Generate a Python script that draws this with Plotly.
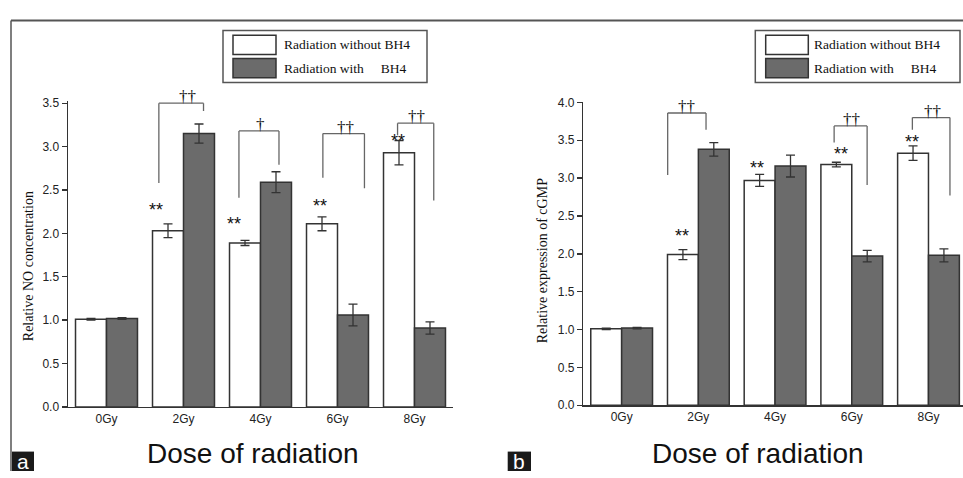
import plotly.graph_objects as go

# ---------------- data ----------------
categories = ["0Gy", "2Gy", "4Gy", "6Gy", "8Gy"]
series_names = ["Radiation without BH4", "Radiation with    BH4"]

no_without = [1.01, 2.03, 1.89, 2.11, 2.93]
no_without_err = [0.01, 0.08, 0.03, 0.08, 0.14]
no_with = [1.02, 3.15, 2.59, 1.06, 0.91]
no_with_err = [0.01, 0.11, 0.12, 0.125, 0.07]

cgmp_without = [1.01, 1.99, 2.97, 3.18, 3.33]
cgmp_without_err = [0.01, 0.065, 0.08, 0.03, 0.095]
cgmp_with = [1.02, 3.38, 3.16, 1.97, 1.98]
cgmp_with_err = [0.01, 0.09, 0.145, 0.077, 0.086]

ticks_a = [0.0, 0.5, 1.0, 1.5, 2.0, 2.5, 3.0, 3.5]
ticks_b = [0.0, 0.5, 1.0, 1.5, 2.0, 2.5, 3.0, 3.5, 4.0]

# significance marks: (category index, x offset, y)
stars_a = [(1, -0.36, 2.31), (2, -0.35, 2.15), (3, -0.23, 2.36), (4, -0.22, 3.11)]
stars_b = [(1, -0.21, 2.29), (2, -0.24, 3.19), (3, -0.14, 3.37), (4, -0.21, 3.53)]
# brackets: (cat, left off, right off, top, left bottom, right bottom, label, label x off)
brackets_a = [
    (1, -0.32, 0.26, 3.50, 2.58, 3.41, "††", 0.05),
    (2, -0.28, 0.24, 3.18, 2.41, 2.79, "†", 0.0),
    (3, -0.19, 0.35, 3.15, 2.64, 2.52, "††", 0.11),
    (4, -0.22, 0.25, 3.27, 3.13, 2.38, "††", 0.02),
]
brackets_b = [
    (1, -0.40, 0.10, 3.86, 3.04, 3.64, "††", -0.15),
    (3, -0.23, 0.20, 3.69, 3.47, 2.91, "††", 0.0),
    (4, -0.21, 0.28, 3.80, 3.64, 2.77, "††", 0.05),
]

# ---------------- style ----------------
W, H = 963, 478
WHITE = "#ffffff"
DARK = "#6b6b6b"
EDGE = "#333333"
SANS = "Liberation Sans, Arial, sans-serif"
SERIF = "Liberation Serif, Times New Roman, serif"

def px(x):
    return min(1.0, max(0.0, x / W))

def py(y):
    return min(1.0, max(0.0, 1 - y / H))

idx = list(range(len(categories)))

fig = go.Figure()

def add_bars(xa, ya, v1, e1, v2, e2):
    for vals, errs, col, name in [(v1, e1, WHITE, series_names[0]), (v2, e2, DARK, series_names[1])]:
        fig.add_trace(go.Bar(
            x=idx, y=vals, name=name, xaxis=xa, yaxis=ya,
            marker=dict(color=col, line=dict(color=EDGE, width=1.5)),
            error_y=dict(type="data", array=errs, visible=True, color=EDGE, thickness=1.3, width=4.5),
            showlegend=False, hoverinfo="skip",
        ))

add_bars("x", "y", no_without, no_without_err, no_with, no_with_err)
add_bars("x2", "y2", cgmp_without, cgmp_without_err, cgmp_with, cgmp_with_err)

axis_common = dict(showline=True, linecolor=EDGE, linewidth=1.5, showgrid=False, zeroline=False,
                   tickfont=dict(family=SANS, size=12, color="#222"))

fig.update_layout(
    width=W, height=H, margin=dict(l=0, r=0, t=0, b=0),
    paper_bgcolor="white", plot_bgcolor="white",
    barmode="group", bargap=0.195, bargroupgap=0,
    xaxis=dict(domain=[px(68), px(453)], range=[-0.5, 4.5], tickvals=idx, ticktext=categories,
               ticks="", anchor="y", **axis_common),
    yaxis=dict(domain=[py(412), py(96.4)], range=[0, 3.53], tickvals=ticks_a,
               ticktext=[f"{t:.1f}" for t in ticks_a], ticks="outside", ticklen=5, tickcolor=EDGE,
               tickwidth=1.3, anchor="x", **axis_common),
    xaxis2=dict(domain=[px(583.3), 1.0], range=[-0.5, 4.45], tickvals=idx, ticktext=categories,
                ticks="", anchor="y2", **axis_common),
    yaxis2=dict(domain=[py(410.3), py(98.3)], range=[0, 4.0], tickvals=ticks_b,
                ticktext=[f"{t:.1f}" for t in ticks_b], ticks="outside", ticklen=5, tickcolor=EDGE,
                tickwidth=1.3, anchor="x2", **axis_common),
)

shapes = []
annotations = []

# brackets and marks
for xa, ya, stars, brackets in [("x", "y", stars_a, brackets_a), ("x2", "y2", stars_b, brackets_b)]:
    for c, off, yv in stars:
        annotations.append(dict(x=c + off, y=yv, xref=xa, yref=ya, text="**", showarrow=False,
                                xanchor="center", yanchor="middle", yshift=-4,
                                font=dict(family=SANS, size=18, color="#111")))
    for c, lo, ro, top, lb, rb, lab, lx in brackets:
        line = dict(color="#666666", width=1.3)
        shapes.append(dict(type="line", xref=xa, yref=ya, x0=c + lo, x1=c + lo, y0=lb, y1=top, line=line))
        shapes.append(dict(type="line", xref=xa, yref=ya, x0=c + lo, x1=c + ro, y0=top, y1=top, line=line))
        shapes.append(dict(type="line", xref=xa, yref=ya, x0=c + ro, x1=c + ro, y0=top, y1=rb, line=line))
        annotations.append(dict(x=c + lx, y=top, xref=xa, yref=ya, text=lab, showarrow=False,
                                xanchor="center", yanchor="bottom", yshift=-5,
                                font=dict(family=SERIF, size=17, color="#111")))

# custom legends
for bx0, bx1, sx0, sx1, tx in [(223, 427, 233, 276, 282), (755.3, 960, 765.7, 808.3, 811.7)]:
    shapes.append(dict(type="rect", xref="paper", yref="paper", x0=px(bx0), x1=px(bx1),
                       y0=py(77.7), y1=py(24.3), line=dict(color="#555", width=1.5), fillcolor="white"))
    for (y0, y1), col, name in [((29, 49), WHITE, "Radiation without BH4"),
                                ((53, 73), DARK, "Radiation with&nbsp;&nbsp;&nbsp;&nbsp;&nbsp;BH4")]:
        shapes.append(dict(type="rect", xref="paper", yref="paper", x0=px(sx0), x1=px(sx1),
                           y0=py(y1), y1=py(y0), line=dict(color=EDGE, width=1.5), fillcolor=col))
        annotations.append(dict(x=px(tx), y=py((y0 + y1) / 2), xref="paper", yref="paper", text=name,
                                showarrow=False, xanchor="left", yanchor="middle",
                                font=dict(family=SERIF, size=13.5, color="#111")))

# axis titles
annotations.append(dict(x=px(28), y=py(267), xref="paper", yref="paper", text="Relative NO concentration",
                        textangle=-90, showarrow=False, xanchor="center", yanchor="middle",
                        font=dict(family=SERIF, size=14, color="#111")))
annotations.append(dict(x=px(542), y=py(262), xref="paper", yref="paper", text="Relative expression of cGMP",
                        textangle=-90, showarrow=False, xanchor="center", yanchor="middle",
                        font=dict(family=SERIF, size=14, color="#111")))
for cx in [252.5, 757.5]:
    annotations.append(dict(x=px(cx), y=py(460), xref="paper", yref="paper", text="Dose of radiation",
                            showarrow=False, xanchor="center", yanchor="middle",
                            font=dict(family=SANS, size=28, color="#111")))

# frame lines
shapes.append(dict(type="line", xref="paper", yref="paper", x0=px(11), x1=1, y0=py(14), y1=py(14),
                   line=dict(color="#555", width=2)))
shapes.append(dict(type="line", xref="paper", yref="paper", x0=px(11), x1=px(11), y0=py(14), y1=0,
                   line=dict(color="#555", width=1.5)))

# panel letters
for x0, x1, lab in [(12, 34, "a"), (507.7, 531, "b")]:
    shapes.append(dict(type="rect", xref="paper", yref="paper", x0=px(x0), x1=px(x1), y0=0, y1=py(458),
                       line=dict(width=0), fillcolor="#1a1a1a"))
    annotations.append(dict(x=px((x0 + x1) / 2), y=py(468), xref="paper", yref="paper", text=lab,
                            showarrow=False, xanchor="center", yanchor="middle",
                            font=dict(family=SANS, size=21, color="white")))

fig.update_layout(shapes=shapes, annotations=annotations, hovermode=False)
fig.write_html("out.html", config={"displayModeBar": False, "staticPlot": True},
               post_script="document.body.style.margin='0px';")
